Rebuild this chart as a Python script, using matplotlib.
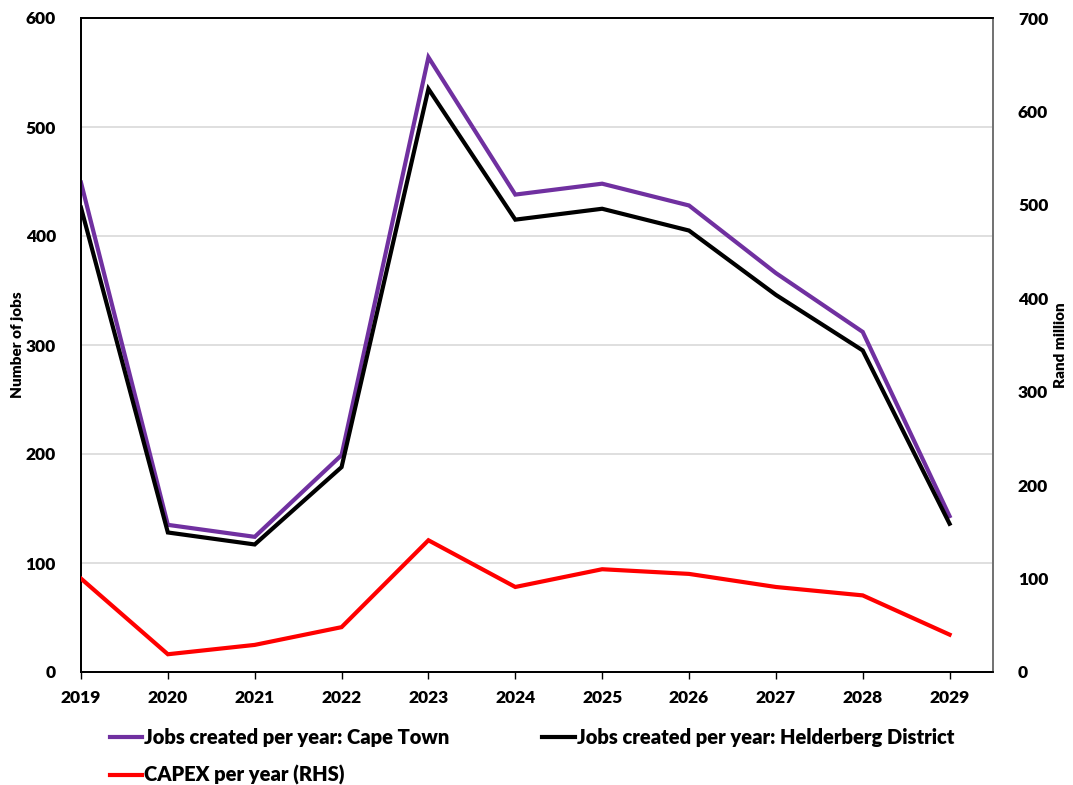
import matplotlib
matplotlib.use("Agg")
import matplotlib.pyplot as plt
from matplotlib.lines import Line2D

plt.rcParams['font.family'] = ['Lato', 'DejaVu Sans']
plt.rcParams['font.weight'] = 'heavy'

years = [2019, 2020, 2021, 2022, 2023, 2024, 2025, 2026, 2027, 2028, 2029]
jobs_cape_town = [449, 135, 124, 199, 564, 438, 448, 428, 366, 312, 143]
jobs_helderberg = [426, 128, 117, 188, 535, 415, 425, 405, 346, 295, 136]
capex_rand_million = [100, 19, 29, 48, 141, 91, 110, 105, 91, 82, 40]

left_ticks = [0, 100, 200, 300, 400, 500, 600]
right_ticks = [0, 100, 200, 300, 400, 500, 600, 700]

purple = '#7030A0'
red = '#FF0000'
W = 'heavy'

fig = plt.figure(figsize=(10.73, 7.85), dpi=100)
ax = fig.add_axes([81 / 1073, 113 / 785, 912 / 1073, 654 / 785])
ax2 = ax.twinx()

ax.plot(years, jobs_cape_town, color=purple, lw=3, solid_joinstyle='miter', zorder=3)
ax.plot(years, jobs_helderberg, color='black', lw=3, solid_joinstyle='miter', zorder=4)
ax2.plot(years, capex_rand_million, color=red, lw=3, solid_joinstyle='miter', zorder=3)

ax.set_xlim(2019, 2029.5)
ax.set_ylim(0, 600)
ax2.set_ylim(0, 700)
ax.set_xticks(years)
ax.set_xticklabels([str(y) for y in years], fontweight=W)
ax.set_yticks(left_ticks)
ax.set_yticklabels([str(v) for v in left_ticks], fontweight=W)
ax2.set_yticks(right_ticks)
ax2.set_yticklabels([str(v) for v in right_ticks], fontweight=W)

ax.grid(axis='y', color='#D9D9D9', lw=1.2, zorder=0)
ax.set_axisbelow(True)

for a in (ax, ax2):
    for s in a.spines.values():
        s.set_linewidth(1.3)
        s.set_color('black')
ax2.spines['right'].set_color('#7F7F7F')

ax.tick_params(axis='x', direction='out', length=5, width=1, pad=8, labelsize=12.5)
ax.tick_params(axis='y', length=0, pad=18, labelsize=12.5)
ax2.tick_params(axis='y', length=0, pad=18, labelsize=12.5)

ax.set_ylabel('Number of jobs', fontsize=11, fontweight=W, labelpad=1)
ax2.set_ylabel('Rand million', fontsize=11, fontweight=W, labelpad=4)

handles = [
    Line2D([], [], color=purple, lw=3),
    Line2D([], [], color=red, lw=3),
    Line2D([], [], color='black', lw=3),
]
labels = [
    'Jobs created per year: Cape Town',
    'CAPEX per year (RHS)',
    'Jobs created per year: Helderberg District',
]
fig.legend(handles, labels, ncol=2, loc='upper left', bbox_to_anchor=(92 / 1073, 1 - 710 / 785),
           frameon=False, prop={'size': 14.5, 'weight': W}, handlelength=1.6, handletextpad=0.1,
           columnspacing=4.6, labelspacing=0.9)

fig.savefig('out.png', dpi=100)
